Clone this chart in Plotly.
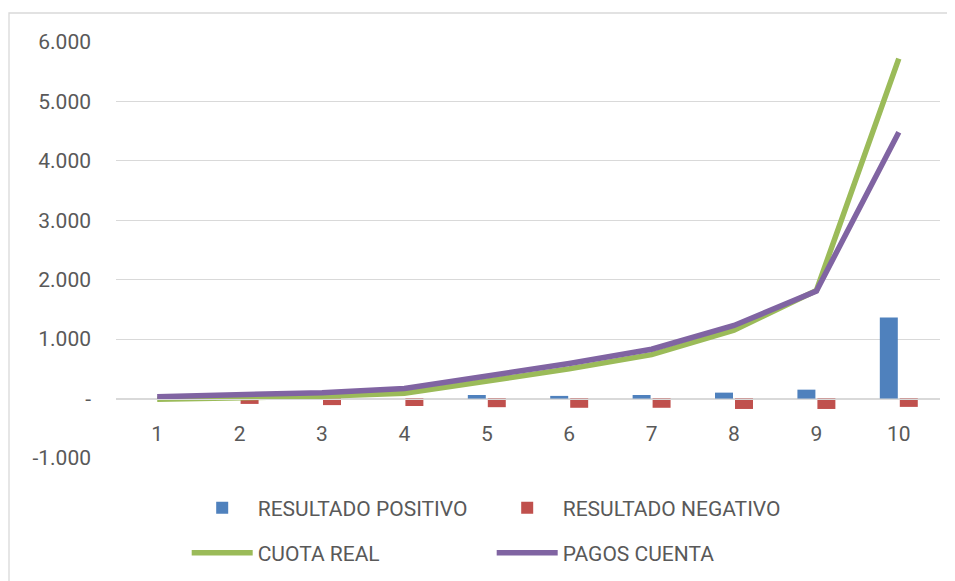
import plotly.graph_objects as go

categories = ["1", "2", "3", "4", "5", "6", "7", "8", "9", "10"]
resultado_positivo = [0, 0, 0, 0, 60, 45, 60, 100, 150, 1365]
resultado_negativo = [0, -90, -110, -125, -145, -155, -155, -175, -175, -140]
cuota_real = [-10, 10, 40, 90, 290, 500, 740, 1150, 1820, 5720]
pagos_cuenta = [30, 60, 100, 170, 370, 590, 830, 1230, 1810, 4480]

y_tickvals = [-1000, 0, 1000, 2000, 3000, 4000, 5000, 6000]
y_ticktext = ["-1.000", "-", "1.000", "2.000", "3.000", "4.000", "5.000", "6.000"]

FONT = "Roboto"
TXT = "#595959"
GRID = "#D9D9D9"

fig = go.Figure()
fig.add_trace(go.Bar(x=categories, y=resultado_positivo, name="RESULTADO POSITIVO",
                     marker=dict(color="#4F81BD", line=dict(width=0)), legend="legend"))
fig.add_trace(go.Bar(x=categories, y=resultado_negativo, name="RESULTADO NEGATIVO",
                     marker=dict(color="#C0504D", line=dict(width=0)), legend="legend"))
fig.add_trace(go.Scatter(x=categories, y=cuota_real, name="CUOTA REAL", mode="lines",
                         line=dict(color="#9BBB59", width=5.5), legend="legend2"))
fig.add_trace(go.Scatter(x=categories, y=pagos_cuenta, name="PAGOS CUENTA", mode="lines",
                         line=dict(color="#8064A2", width=5.5), legend="legend2"))

ymin, ymax = -1000, 6000
zero_pos = (0 - ymin) / (ymax - ymin)

# page body adds an 8px offset, so the figure is laid out 8px smaller
W, H = 947, 573
ML, MR, MT, MB = 108, 15, 34, 123
pw = W - ML - MR
ph = H - MT - MB

legend_common = dict(
    orientation="h", xanchor="left", yanchor="middle",
    xref="container", yref="container",
    font=dict(family=FONT, size=21, color=TXT),
    entrywidth=229, entrywidthmode="pixels", itemwidth=61,
    bgcolor="rgba(0,0,0,0)", traceorder="normal",
)

fig.update_layout(
    width=W, height=H,
    margin=dict(l=ML, r=MR, t=MT, b=MB, autoexpand=False),
    paper_bgcolor="white", plot_bgcolor="white",
    font=dict(family=FONT, size=21, color=TXT),
    barmode="group", bargap=0.515, bargroupgap=0.1,
    xaxis=dict(
        type="category", anchor="free", position=zero_pos,
        showline=True, linecolor=GRID, linewidth=1.3,
        showgrid=False, ticks="", ticklabelstandoff=16,
        tickfont=dict(family=FONT, size=21, color=TXT),
    ),
    yaxis=dict(
        range=[ymin, ymax], tickvals=y_tickvals, ticktext=y_ticktext,
        showgrid=True, gridcolor=GRID, gridwidth=1.3, zeroline=False,
        showline=False, ticks="", ticklabelstandoff=24,
        tickfont=dict(family=FONT, size=21, color=TXT),
    ),
    showlegend=True,
    legend=dict(legend_common, x=0.1887, y=0.1274),
    legend2=dict(legend_common, x=0.1887, y=0.0489),
    shapes=[dict(type="rect", xref="paper", yref="paper",
                 x0=(1 - ML) / pw, x1=(W + 20 - ML) / pw,
                 y0=-(MB + 30) / ph, y1=(H - MB - 5) / ph,
                 line=dict(color=GRID, width=1.3), fillcolor="rgba(0,0,0,0)", layer="below")],
)

fig.write_html("out.html")
